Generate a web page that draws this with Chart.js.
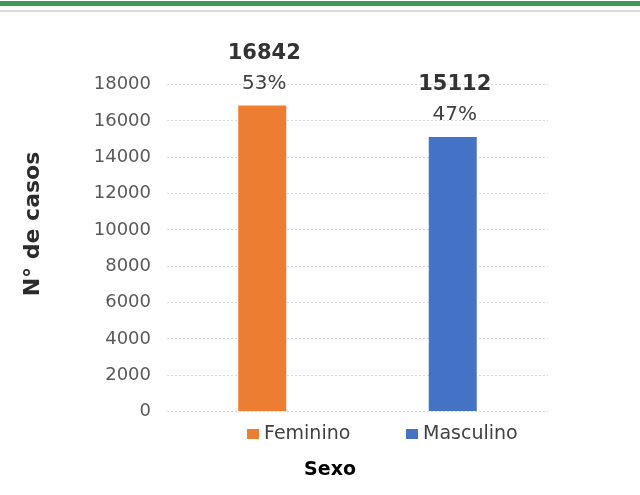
<!DOCTYPE html>
<html>
<head>
<meta charset="utf-8">
<script src="https://cdn.jsdelivr.net/npm/chart.js@4.4.1/dist/chart.umd.min.js"></script>
<style>
  html, body { margin: 0; padding: 0; background: #fff; }
  #wrap { position: relative; width: 640px; height: 495px; }
  #green { position: absolute; left: 0; top: 1px; width: 640px; height: 5px; background: #3d9a5b; }
  #gray { position: absolute; left: 0; top: 10px; width: 640px; height: 2px; background: #d9d9d9; }
  canvas { position: absolute; left: 0; top: 0; }
</style>
</head>
<body>
<div id="wrap">
  <canvas id="c" width="640" height="495"></canvas>
  <div id="green"></div>
  <div id="gray"></div>
</div>
<script>
const seriesNames = ['Feminino', 'Masculino'];
const seriesValues = [16842, 15112];
const seriesPercents = ['53%', '47%'];
const seriesColors = ['#ED7D31', '#4472C4'];
const yMax = 18000;
const yStep = 2000;
const xTitle = 'Sexo';
const yTitle = 'N° de casos';

const FONT = '"DejaVu Sans", sans-serif';

const customText = {
  id: 'customText',
  afterDatasetsDraw(chart) {
    const ctx = chart.ctx;
    ctx.save();
    ctx.textAlign = 'center';
    ctx.textBaseline = 'middle';
    chart.data.datasets.forEach((ds, i) => {
      const bar = chart.getDatasetMeta(i).data[0];
      ctx.fillStyle = '#333333';
      ctx.font = 'bold 21px ' + FONT;
      ctx.fillText(String(ds.data[0]), bar.x + 2, bar.y - 52);
      ctx.fillStyle = '#404040';
      ctx.font = '20px ' + FONT;
      ctx.fillText(seriesPercents[i], bar.x + 2, bar.y - 22);
    });
    // legend
    ctx.textAlign = 'left';
    const legendX = [247, 406];
    const ly = 434;
    chart.data.datasets.forEach((ds, i) => {
      ctx.fillStyle = ds.backgroundColor;
      ctx.fillRect(legendX[i], ly - 5, 12, 10);
      ctx.fillStyle = '#404040';
      ctx.font = '19px ' + FONT;
      ctx.fillText(ds.label, legendX[i] + 17, ly);
    });
    // x title
    ctx.textAlign = 'center';
    ctx.fillStyle = '#000000';
    ctx.font = 'bold 19px ' + FONT;
    ctx.fillText(xTitle, 330, 470);
    // y title
    ctx.translate(33, 224);
    ctx.rotate(-Math.PI / 2);
    ctx.fillStyle = '#2b2b2b';
    ctx.font = 'bold 22px ' + FONT;
    ctx.fillText(yTitle, 0, 0);
    ctx.restore();
  }
};

new Chart(document.getElementById('c'), {
  type: 'bar',
  data: {
    labels: [''],
    datasets: seriesNames.map((n, i) => ({
      label: n,
      data: [seriesValues[i]],
      backgroundColor: seriesColors[i],
      borderWidth: 0,
      categoryPercentage: 1,
      barPercentage: 0.252
    }))
  },
  options: {
    responsive: false,
    animation: false,
    devicePixelRatio: 1,
    layout: { padding: { top: 84.5, bottom: 83.5, left: 0, right: 92 } },
    plugins: {
      legend: { display: false },
      tooltip: { enabled: false },
      title: { display: false }
    },
    scales: {
      x: { display: false },
      y: {
        min: 0,
        max: yMax,
        ticks: {
          stepSize: yStep,
          padding: 16,
          color: '#595959',
          font: { family: FONT, size: 18 },
          callback: (v) => String(v)
        },
        grid: {
          color: '#d9d9d9',
          lineWidth: 1,
          drawTicks: false
        },
        border: { display: false, dash: [2, 2] },
        afterFit(scale) { scale.width = 167; }
      }
    }
  },
  plugins: [customText]
});
</script>
</body>
</html>
